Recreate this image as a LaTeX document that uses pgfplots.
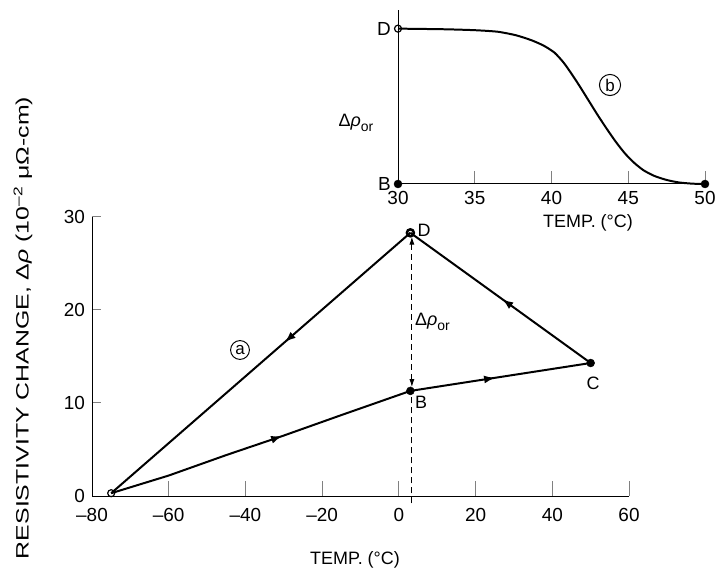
\documentclass[border=0pt]{standalone}
\usepackage{fontspec}
\setmainfont{Liberation Sans}
\usepackage{graphicx}
\usepackage{pgfplots}
\pgfplotsset{compat=1.18}
\usetikzlibrary{arrows.meta,decorations.markings}
\begin{document}
\fontsize{18}{21}\selectfont
\begin{tikzpicture}
\useasboundingbox (0,0) rectangle (720bp,575bp);
% ---------------- main axis ----------------
\begin{axis}[
  at={(92bp,79bp)}, anchor=south west, scale only axis,
  width=537bp, height=279bp,
  xmin=-80, xmax=60, ymin=0, ymax=30,
  axis lines=left, axis line style={-, line width=1pt},
  xtick={-80,-60,-40,-20,0,20,40,60},
  xticklabels={–80,–60,–40,–20,0,20,40,60},
  ytick={0,10,20,30},
  tick align=inside,
  xtick style={line width=1pt, /pgfplots/major tick length=15bp},
  ytick style={line width=1pt, /pgfplots/major tick length=9bp},
  tick label style={font=\fontsize{19}{21}\selectfont},
  xticklabel style={yshift=-6bp},
  yticklabel style={xshift=-1bp},
  /pgf/number format/assume math mode=true,
  clip=false,
]
% lower path: start -> B
\addplot[line width=2pt, postaction={decorate},
  decoration={markings, mark=at position 0.57 with {\arrow{Latex[length=11bp,width=8bp]}}}]
  coordinates {(-75,0.3) (-60,2.2) (-45,4.4) (-30,6.5) (-15,8.7) (3,11.3)};
% B -> C
\addplot[line width=2pt, postaction={decorate},
  decoration={markings, mark=at position 0.47 with {\arrow{Latex[length=11bp,width=8bp]}}}]
  coordinates {(3,11.3) (50,14.3)};
% C -> D
\addplot[line width=2pt, postaction={decorate},
  decoration={markings, mark=at position 0.49 with {\arrow{Latex[length=11bp,width=8bp]}}}]
  coordinates {(50,14.3) (3,28.3)};
% D -> start
\addplot[line width=2pt, postaction={decorate},
  decoration={markings, mark=at position 0.42 with {\arrow{Latex[length=11bp,width=8bp]}}}]
  coordinates {(3,28.3) (-75,0.3)};
% dashed delta rho_or
\addplot[line width=1pt, dash pattern=on 6bp off 4bp] coordinates {(3.4,-0.8) (3.4,11.3)};
\addplot[line width=1pt, dash pattern=on 6bp off 4bp, {Latex[length=8bp,width=5bp]}-{Latex[length=8bp,width=5bp]}]
  coordinates {(3.4,11.7) (3.4,27.9)};
% markers
\addplot[only marks, mark=*, mark size=4bp, mark options={fill=black}] coordinates {(3,11.3) (50,14.3)};
\addplot[only marks, mark=o, mark size=3.5bp, mark options={line width=2.5pt}] coordinates {(3,28.3)};
\addplot[only marks, mark=o, mark size=3.5bp, mark options={line width=1.2pt, fill=white}] coordinates {(-75,0.3)};
\end{axis}
% ---------------- inset axis ----------------
\begin{axis}[
  at={(398bp,391bp)}, anchor=south west, scale only axis,
  width=307bp, height=174bp,
  xmin=30, xmax=50, ymin=0, ymax=1.12,
  axis lines=left, axis line style={-, line width=1pt},
  xtick={30,35,40,45,50},
  ytick={0,1}, yticklabels={B,D},
  tick align=inside,
  xtick style={line width=1pt, /pgfplots/major tick length=13bp},
  ytick style={draw=none},
  tick label style={font=\fontsize{19}{21}\selectfont},
  xticklabel style={yshift=-1bp},
  yticklabel style={xshift=-1bp},
  /pgf/number format/assume math mode=true,
  clip=false,
]
\addplot[line width=2pt, smooth, tension=0.4] coordinates {
 (30,1.0) (33,0.996) (35,0.99) (36.5,0.98) (37.7,0.957) (38.7,0.925) (39.5,0.89)
 (40.2,0.845) (40.8,0.78) (41.3,0.71) (41.8,0.635) (42.4,0.54) (43,0.445) (43.6,0.355)
 (44.2,0.27) (44.8,0.195) (45.4,0.135) (46,0.088) (46.7,0.052) (47.5,0.026) (48.3,0.01)
 (49.2,0.002) (50,0)};
\addplot[only marks, mark=*, mark size=4bp, mark options={fill=black}] coordinates {(30,0) (50,0)};
\addplot[only marks, mark=o, mark size=3.5bp, mark options={line width=1.2pt, fill=white}] coordinates {(30,1)};
\end{axis}
% ---------------- text ----------------
\node[rotate=90] at (23bp,247bp) {\resizebox{462bp}{\height}{RESISTIVITY CHANGE, Δ\textit{ρ} (10\textsuperscript{–2} μΩ-cm)}};
\node at (355bp,15bp) {TEMP. (°C)};
\node[draw, circle, line width=1pt, inner sep=2pt, font=\fontsize{17}{18}\selectfont] at (240bp,225bp) {a};
\node[anchor=west, inner sep=0pt] at (415bp,253bp) {Δ\textit{ρ}\raisebox{-0.5ex}{\fontsize{14}{15}\selectfont or}};
\node at (424bp,345bp) {D};
\node at (421bp,173bp) {B};
\node at (593bp,192bp) {C};
\node at (356bp,452bp) {Δ\textit{ρ}\raisebox{-0.5ex}{\fontsize{14}{15}\selectfont or}};
\node[draw, circle, line width=1pt, inner sep=2pt, font=\fontsize{17}{18}\selectfont] at (610bp,490bp) {b};
\node at (588bp,352bp) {TEMP. (°C)};
\end{tikzpicture}
\end{document}
